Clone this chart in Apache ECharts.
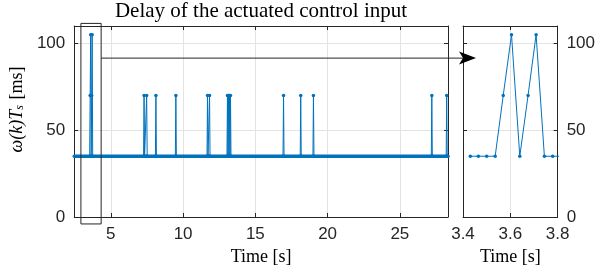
<!DOCTYPE html>
<html><head><meta charset="utf-8">
<script src="https://cdn.jsdelivr.net/npm/echarts@6/dist/echarts.min.js"></script>
<style>html,body{margin:0;padding:0;background:#fff}#c{width:598px;height:271px}</style>
</head><body><div id="c"></div>
<script>
// ---- data ----
const titleText = 'Delay of the actuated control input';
const xName = 'Time [s]';
const mainXRange = [2.47, 28.33];
const insetXRange = [3.4, 3.8];
const yRange = [0, 110];
const mainTimes = [2.47,
  3.536, 3.570, 3.605, 3.640, 3.675, 3.709, 3.744,
  7.265, 7.30, 7.335, 7.445, 7.48, 7.515,
  8.085, 8.12, 8.155,
  9.465, 9.50, 9.535,
  11.655, 11.69, 11.725, 11.795, 11.83, 11.865,
  13.035, 13.07, 13.105, 13.14, 13.175, 13.21, 13.245, 13.28, 13.315,
  16.915, 16.95, 16.985,
  18.105, 18.14, 18.175,
  18.985, 19.02, 19.055,
  27.175, 27.21, 27.245,
  28.205, 28.24, 28.275,
  28.33];
const mainValues = [35,
  35, 70, 105, 35, 70, 105, 35,
  35, 70, 35, 35, 70, 35,
  35, 70, 35,
  35, 70, 35,
  35, 70, 35, 35, 70, 35,
  35, 70, 35, 70, 35, 70, 35, 70, 35,
  35, 70, 35,
  35, 70, 35,
  35, 70, 35,
  35, 70, 35,
  35, 70, 35,
  35];
const baselineTimes = [2.47, 28.33];
const baselineValues = [35, 35];
const insetTimes = [3.431, 3.465, 3.500, 3.536, 3.570, 3.605, 3.640, 3.675, 3.709, 3.744, 3.779, 3.814];
const insetValues = [35, 35, 35, 35, 70, 105, 35, 70, 105, 35, 35, 35];
const zoomBoxTimes = [2.93, 4.33, 4.33, 2.93, 2.93];
const zoomBoxValues = [-4, -4, 111.5, 111.5, -4];
const arrowFrom = [4.33, 91.5];   // main-axes coordinates
const arrowTo = [3.455, 91.5];    // inset-axes coordinates

// ---- styles ----
const blue = '#0072BD';
const axisColor = '#262626';
const gridLineColor = '#e3e3e3';
const sans = 'Liberation Sans';
const serif = 'Liberation Serif';
const tickFont = 17;

const zip = (a, b) => a.map((v, i) => [v, b[i]]);

function xAx(gridIndex, range, pos, labels, extra) {
  return Object.assign({
    type: 'value', gridIndex, position: pos, min: range[0], max: range[1],
    axisLine: { show: true, onZero: false, lineStyle: { color: axisColor, width: 1 } },
    axisTick: { show: true, inside: true, length: 4, lineStyle: { color: axisColor } },
    axisLabel: { show: labels, color: axisColor, fontFamily: sans, fontSize: tickFont, margin: 9,
      showMinLabel: false, showMaxLabel: false },
    splitLine: { show: labels, lineStyle: { color: gridLineColor, width: 1 } }
  }, extra || {});
}
function yAx(gridIndex, pos, labels, extra) {
  return Object.assign({
    type: 'value', gridIndex, position: pos, min: yRange[0], max: yRange[1], interval: 50,
    axisLine: { show: true, onZero: false, lineStyle: { color: axisColor, width: 1 } },
    axisTick: { show: true, inside: true, length: 4, lineStyle: { color: axisColor } },
    axisLabel: { show: labels, color: axisColor, fontFamily: sans, fontSize: tickFont, margin: 9,
      showMaxLabel: false },
    splitLine: { show: labels, lineStyle: { color: gridLineColor, width: 1 } }
  }, extra || {});
}

const chart = echarts.init(document.getElementById('c'), null, { renderer: 'canvas' });
chart.setOption({
  animation: false,
  backgroundColor: '#fff',
  title: {
    text: titleText, left: 261, top: 1, textAlign: 'center', padding: 0,
    textStyle: { fontFamily: serif, fontSize: 21, fontWeight: 'normal', color: '#000' }
  },
  grid: [
    { left: 73, top: 26, width: 375, height: 192 },
    { left: 463, top: 26, width: 99, height: 192 }
  ],
  xAxis: [
    xAx(0, mainXRange, 'bottom', true, {
      name: xName, nameLocation: 'middle', nameGap: 31,
      nameTextStyle: { fontFamily: serif, fontSize: 18, color: '#000' }
    }),
    xAx(0, mainXRange, 'top', false),
    xAx(1, insetXRange, 'bottom', true, {
      interval: 0.2,
      axisLabel: { show: true, color: axisColor, fontFamily: sans, fontSize: tickFont, margin: 9,
        formatter: v => v.toFixed(1) },
      name: xName, nameLocation: 'middle', nameGap: 31,
      nameTextStyle: { fontFamily: serif, fontSize: 18, color: '#000' }
    }),
    xAx(1, insetXRange, 'top', false, { interval: 0.2 })
  ],
  yAxis: [
    yAx(0, 'left', true, {
      name: '{i|ω(k)T}{s|s}{n| [ms]}', nameLocation: 'middle', nameGap: 47, nameRotate: 90,
      nameTextStyle: {
        color: '#000', padding: [0, 0, 0, 24],
        rich: {
          i: { fontFamily: serif, fontStyle: 'italic', fontSize: 18, color: '#000' },
          s: { fontFamily: serif, fontStyle: 'italic', fontSize: 12, color: '#000', padding: [6, 1, 0, 0] },
          n: { fontFamily: serif, fontSize: 18, color: '#000' }
        }
      }
    }),
    yAx(0, 'right', false),
    yAx(1, 'right', true),
    yAx(1, 'left', false)
  ],
  series: [
    { type: 'line', xAxisIndex: 0, yAxisIndex: 0, data: zip(baselineTimes, baselineValues),
      symbol: 'none', lineStyle: { color: blue, width: 3.5 }, silent: true, z: 2 },
    { type: 'line', xAxisIndex: 0, yAxisIndex: 0, data: zip(mainTimes, mainValues),
      symbol: 'circle', symbolSize: 3.5, showAllSymbol: true, itemStyle: { color: blue },
      lineStyle: { color: blue, width: 1 }, silent: true, z: 3 },
    { type: 'line', xAxisIndex: 2, yAxisIndex: 2, data: zip(insetTimes, insetValues),
      symbol: 'circle', symbolSize: 3.5, showAllSymbol: true, itemStyle: { color: blue },
      lineStyle: { color: blue, width: 1 }, silent: true, z: 3 },
    { type: 'line', xAxisIndex: 0, yAxisIndex: 0, data: zip(zoomBoxTimes, zoomBoxValues),
      symbol: 'none', clip: false, lineStyle: { color: axisColor, width: 1 }, silent: true, z: 5 }
  ]
});

// arrow from zoom box to inset, positioned through the axes' scales
const p0 = chart.convertToPixel({ xAxisIndex: 0, yAxisIndex: 0 }, arrowFrom);
const p1 = chart.convertToPixel({ xAxisIndex: 2, yAxisIndex: 2 }, arrowTo);
const headLen = 17, headHalf = 6.5, notch = 13;
chart.setOption({
  graphic: [
    { type: 'line', silent: true, z: 10,
      shape: { x1: p0[0], y1: p0[1], x2: p1[0] - notch, y2: p1[1] },
      style: { stroke: axisColor, lineWidth: 1 } },
    { type: 'polygon', silent: true, z: 10,
      shape: { points: [[p1[0], p1[1]], [p1[0] - headLen, p1[1] - headHalf],
                        [p1[0] - notch, p1[1]], [p1[0] - headLen, p1[1] + headHalf]] },
      style: { fill: '#000' } }
  ]
});
</script></body></html>
